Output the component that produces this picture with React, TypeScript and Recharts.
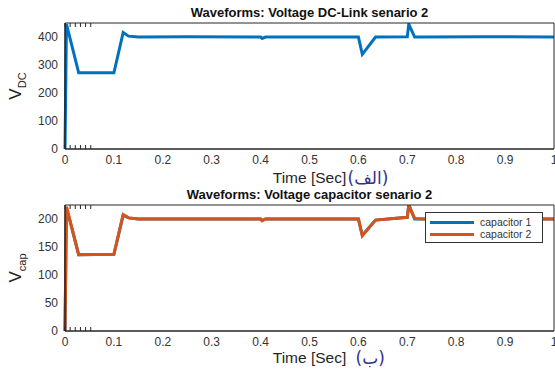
import React from 'react'
import { LineChart, Line, XAxis, YAxis, Legend, Label } from 'recharts'

// time axis shared by both plots (seconds)
const TIME = [0, 0.003, 0.028, 0.1, 0.119, 0.13, 0.15, 0.25, 0.4, 0.403, 0.41, 0.6, 0.608, 0.635, 0.7, 0.703, 0.715, 0.73, 0.85, 1]
// DC-link voltage
const VDC = [0, 446, 272, 272, 416, 403, 400, 401, 400, 395, 400, 400, 338, 400, 401, 446, 400, 400, 401, 400]
// capacitor voltages
const VCAP1 = [0, 221, 136, 137, 207, 202, 200, 200, 200, 197, 200, 200, 171, 198, 203, 226, 200, 200, 200, 200]
const VCAP2 = [0, 222, 136, 137, 208, 202, 200, 200, 200, 197, 200, 200, 170, 198, 203, 224, 201, 200, 200, 200]

const X_TICKS = [0, 0.1, 0.2, 0.3, 0.4, 0.5, 0.6, 0.7, 0.8, 0.9, 1]
const VDC_TICKS = [0, 100, 200, 300, 400]
const VCAP_TICKS = [0, 50, 100, 150, 200]

const BLUE = '#0072BD'
const ORANGE = '#D95319'
const AXIS = '#262626'
const FONT = '"Liberation Sans", Arial, Helvetica, sans-serif'

const dcData = TIME.map((t, i) => ({ t, vdc: VDC[i] }))
const capData = TIME.map((t, i) => ({ t, c1: VCAP1[i], c2: VCAP2[i] }))

const tickStyle = { fontSize: 12, fill: '#333', fontFamily: FONT }
const blank = () => ''

function Title({ viewBox, text, dy }: any) {
  const { x, width } = viewBox
  return (
    <text x={x + width / 2} y={dy} textAnchor="middle" fontSize={13} fontWeight="bold" fill="#111" fontFamily={FONT}>
      {text}
    </text>
  )
}

function YLabel({ viewBox, sub }: any) {
  const { y, height } = viewBox
  const cx = 21
  const cy = y + height / 2
  return (
    <text transform={`rotate(-90, ${cx}, ${cy})`} x={cx} y={cy} textAnchor="middle" fontSize={17} fill={AXIS} fontFamily={FONT}>
      V<tspan dy={5} fontSize={11}>{sub}</tspan>
    </text>
  )
}

function XLabel({ viewBox, arabic, gap, dy }: any) {
  const { x, y, width } = viewBox
  const cx = x + width / 2
  return (
    <g>
      <text x={cx} y={y + dy} textAnchor="middle" fontSize={15.5} fill={AXIS} fontFamily={FONT}>
        Time [Sec]
      </text>
      <text x={cx + 38 + gap} y={y + dy + 1} fontSize={17} fill="#35308a" fontFamily='"DejaVu Sans", sans-serif'>
        ({arabic})
      </text>
    </g>
  )
}

function CapLegend() {
  const items = [
    { name: 'capacitor 1', color: BLUE },
    { name: 'capacitor 2', color: ORANGE },
  ]
  return (
    <div style={{ border: '1px solid #333', background: '#fff', width: 118, height: 31, boxSizing: 'border-box', padding: '3px 0 0 4px' }}>
      {items.map(it => (
        <div key={it.name} style={{ display: 'flex', alignItems: 'center', height: 12, fontFamily: FONT, fontSize: 10.5, color: '#333' }}>
          <span style={{ display: 'inline-block', width: 44, height: 3, background: it.color, marginRight: 6 }} />
          {it.name}
        </div>
      ))}
    </div>
  )
}

// axes with labels outside, plus mirrored copies on all four sides for the inward ticks and the box
function Frame({ domain, ticks, title, titleY, sub, arabic, gap, labelDy }: any) {
  return [
    <XAxis
      key="xb"
      dataKey="t"
      type="number"
      domain={[0, 1]}
      ticks={X_TICKS}
      interval={0}
      tickLine={false}
      tickSize={0}
      tickMargin={6}
      tick={tickStyle}
      stroke={AXIS}
      height={45}
      tickFormatter={(v: number) => String(Math.round(v * 10) / 10)}
    >
      <Label content={(p: any) => <XLabel {...p} arabic={arabic} gap={gap} dy={labelDy} />} />
    </XAxis>,
    <XAxis key="xbm" xAxisId="bm" type="number" domain={[0, 1]} ticks={X_TICKS} mirror tickSize={4} tickFormatter={blank} stroke={AXIS} />,
    <XAxis key="xt" xAxisId="top" orientation="top" type="number" domain={[0, 1]} ticks={X_TICKS} mirror tickSize={4} tickFormatter={blank} stroke={AXIS}>
      <Label content={(p: any) => <Title {...p} text={title} dy={titleY} />} />
    </XAxis>,
    <YAxis
      key="yl"
      type="number"
      domain={domain}
      ticks={ticks}
      interval={0}
      tickLine={false}
      tickSize={0}
      tickMargin={7}
      tick={tickStyle}
      stroke={AXIS}
      width={65}
      allowDataOverflow
    >
      <Label content={(p: any) => <YLabel {...p} sub={sub} />} />
    </YAxis>,
    <YAxis key="ylm" yAxisId="lm" type="number" domain={domain} ticks={ticks} mirror tickSize={4} tickFormatter={blank} stroke={AXIS} />,
    <YAxis key="yr" yAxisId="right" orientation="right" type="number" domain={domain} ticks={ticks} mirror tickSize={4} tickFormatter={blank} stroke={AXIS} />,
  ]
}

export default function App() {
  return (
    <div style={{ position: 'absolute', left: 0, top: 0, width: 555, height: 376, background: '#fff' }}>
      <div style={{ position: 'absolute', left: 0, top: 0 }}>
        <LineChart width={555} height={194} data={dcData} margin={{ top: 23, right: 1, bottom: 0, left: 0 }}>
          {Frame({
            domain: [0, 450],
            ticks: VDC_TICKS,
            title: 'Waveforms: Voltage DC-Link senario 2',
            titleY: 17,
            sub: 'DC',
            arabic: 'الف',
            gap: 0,
            labelDy: 34,
          })}
          <Line type="linear" dataKey="vdc" stroke={BLUE} strokeWidth={3} dot={false} isAnimationActive={false} />
        </LineChart>
      </div>
      <div style={{ position: 'absolute', left: 0, top: 180 }}>
        <LineChart width={555} height={196} data={capData} margin={{ top: 25, right: 1, bottom: 0, left: 0 }}>
          {Frame({
            domain: [0, 225],
            ticks: VCAP_TICKS,
            title: 'Waveforms: Voltage capacitor senario 2',
            titleY: 19,
            sub: 'cap',
            arabic: 'ب',
            gap: 8,
            labelDy: 32,
          })}
          <Line type="linear" dataKey="c1" name="capacitor 1" stroke={BLUE} strokeWidth={3} dot={false} isAnimationActive={false} />
          <Line type="linear" dataKey="c2" name="capacitor 2" stroke={ORANGE} strokeWidth={3} dot={false} isAnimationActive={false} />
          <Legend
            layout="vertical"
            align="center"
            verticalAlign="middle"
            content={() => <CapLegend />}
            wrapperStyle={{ left: 425, top: 32, width: 118, height: 31 }}
          />
        </LineChart>
      </div>
    </div>
  )
}
